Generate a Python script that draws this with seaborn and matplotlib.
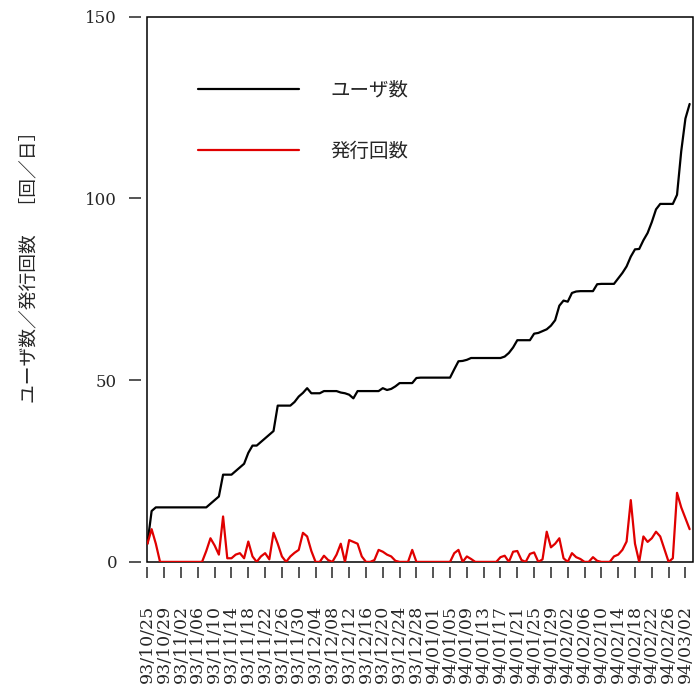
import numpy as np
import pandas as pd
import matplotlib
matplotlib.use("Agg")
import matplotlib.pyplot as plt
from matplotlib.patches import Rectangle
import seaborn as sns

# daily values, 93/10/25 .. 94/03/03
users = [
    5, 14, 15, 15, 15, 15, 15, 15, 15, 15,
    15, 15, 15, 15, 15, 16, 17, 18, 24, 24,
    24, 25, 26, 27, 30, 32, 32, 33, 34, 35,
    36, 43, 43, 43, 43, 44, 45.5, 46.5, 47.8, 46.4,
    46.4, 46.4, 47, 47, 47, 47, 46.6, 46.4, 46, 45,
    47, 47, 47, 47, 47, 47, 47.8, 47.3, 47.6, 48.3,
    49.2, 49.2, 49.2, 49.2, 50.6, 50.7, 50.7, 50.7, 50.7, 50.7,
    50.7, 50.7, 50.7, 53, 55.2, 55.3, 55.6, 56.1, 56.1, 56.1,
    56.1, 56.1, 56.1, 56.1, 56.1, 56.5, 57.5, 59, 61, 61,
    61, 61, 62.8, 63, 63.5, 64, 65, 66.5, 70.5, 71.9,
    71.6, 74, 74.4, 74.5, 74.5, 74.5, 74.5, 76.4, 76.5, 76.5,
    76.5, 76.5, 78, 79.5, 81.3, 84, 86, 86.1, 88.5, 90.5,
    93.5, 97, 98.5, 98.5, 98.5, 98.5, 101, 113, 122, 126,
]
issues = [
    5, 9, 5, 0, 0, 0, 0, 0, 0, 0,
    0, 0, 0, 0, 3, 6.5, 4.5, 2, 12.5, 1,
    1, 2, 2.4, 1, 5.6, 1.5, 0, 1.5, 2.4, 0.7,
    8, 5, 1.5, 0, 1.5, 2.5, 3.3, 8, 7, 3,
    0, 0, 1.7, 0.5, 0, 2, 5, 0, 6, 5.5,
    5, 1.5, 0, 0, 0.5, 3.3, 2.8, 2, 1.5, 0.3,
    0, 0, 0, 3.3, 0, 0, 0, 0, 0, 0,
    0, 0, 0, 2.4, 3.3, 0, 1.5, 0.8, 0, 0,
    0, 0, 0, 0, 1.3, 1.7, 0, 2.8, 3, 0.5,
    0, 2.2, 2.6, 0, 0.7, 8.3, 4, 5, 6.5, 1,
    0, 2.4, 1.3, 0.8, 0, 0, 1.3, 0.3, 0, 0,
    0, 1.5, 2, 3.3, 5.6, 17, 5, 0, 7, 5.5,
    6.5, 8.3, 7, 3.5, 0, 1, 19, 15, 12, 9,
]
tick_labels = [
    "93/10/25", "93/10/29", "93/11/02", "93/11/06", "93/11/10", "93/11/14",
    "93/11/18", "93/11/22", "93/11/26", "93/11/30", "93/12/04", "93/12/08",
    "93/12/12", "93/12/16", "93/12/20", "93/12/24", "93/12/28", "94/01/01",
    "94/01/05", "94/01/09", "94/01/13", "94/01/17", "94/01/21", "94/01/25",
    "94/01/29", "94/02/02", "94/02/06", "94/02/10", "94/02/14", "94/02/18",
    "94/02/22", "94/02/26", "94/03/02",
]
series_names = ["ユーザ数", "発行回数"]

sns.set_style("ticks")
plt.rcParams['font.family'] = ['DejaVu Serif', 'Noto Sans CJK JP']

days = np.arange(len(users))
df = pd.DataFrame({
    "day": np.concatenate([days, days]),
    "value": users + issues,
    "series": [series_names[0]] * len(users) + [series_names[1]] * len(issues),
})

fig = plt.figure(figsize=(7, 6.98), dpi=100)
ax = fig.add_axes([0.21, 0.195, 0.78, 0.781])

# ticks sit a little away from the frame (set before tick styling, it resets ticks)
for side in ["left", "bottom"]:
    ax.spines[side].set_position(("outward", 4))
for side in ax.spines:
    ax.spines[side].set_visible(False)

sns.lineplot(data=df, x="day", y="value", hue="series", ax=ax,
             palette={series_names[0]: "black", series_names[1]: "#e00000"},
             linewidth=1.6)

ax.set_xlim(-0.1, 129.8)
ax.set_ylim(0, 150)
ax.set_yticks([0, 50, 100, 150])
ax.set_xticks(np.arange(0, 4 * len(tick_labels), 4))
ax.set_xticklabels(tick_labels, fontsize=12.5, family='DejaVu Serif')
ax.tick_params(axis='y', labelsize=12, direction='out', length=8.5, width=1.1, pad=9,
               right=False)
ax.tick_params(axis='x', direction='out', length=8, width=1.1, pad=19,
               labelrotation=90, top=False)
ax.set_xlabel("")

ax.add_patch(Rectangle((0, 0), 1, 1, transform=ax.transAxes, fill=False,
                       edgecolor="black", linewidth=1.1, clip_on=False))

ax.set_ylabel("ユーザ数／発行回数　［回／日］", fontsize=13.5,
              family=['Noto Sans CJK JP', 'DejaVu Sans'])
ax.yaxis.set_label_coords(-0.196, 0.55)

handles, labels = ax.get_legend_handles_labels()
ax.legend(handles, labels, loc="upper left", bbox_to_anchor=(0.093, 0.885),
          frameon=False, handlelength=5.2, handletextpad=1.6, labelspacing=2.1,
          borderpad=0, borderaxespad=0,
          prop={'family': 'Noto Sans CJK JP', 'size': 14})

plt.savefig("out.png", dpi=100)
